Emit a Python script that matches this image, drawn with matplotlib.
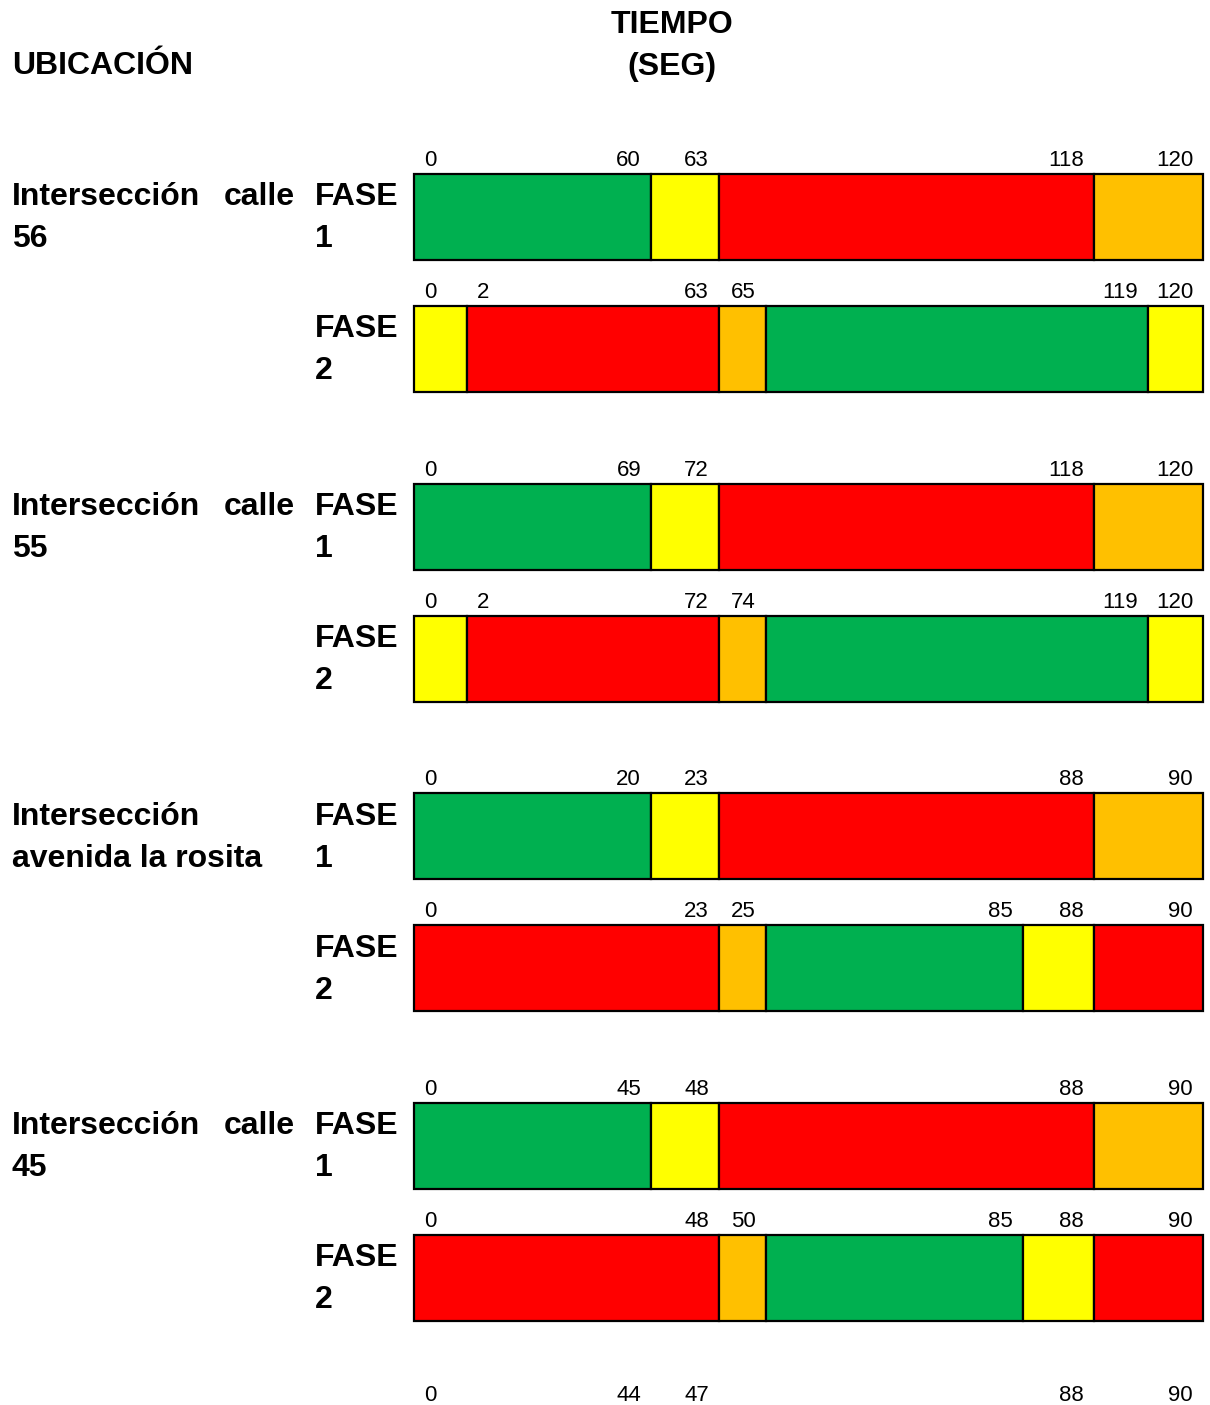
import matplotlib
matplotlib.use("Agg")
import matplotlib.pyplot as plt

# ---------------- data ----------------
header_left = "UBICACIÓN"
header_right = ["TIEMPO", "(SEG)"]

group_names = [
    ("Intersección calle", "56"),
    ("Intersección calle", "55"),
    ("Intersección", "avenida la rosita"),
    ("Intersección calle", "45"),
]
phase_names = [("FASE", "1"), ("FASE", "2")]

# schematic column grid of the timing table (width of each column)
grid_widths = [53, 184, 68, 47, 257, 71, 54, 55]

GREEN, YELLOW, RED, ORANGE = "#00B050", "#FFFF00", "#FF0000", "#FFC000"

# phase 1 (all intersections): segment colours and grid-edge indices
f1_colors = [GREEN, YELLOW, RED, ORANGE]
f1_edges = [0, 2, 3, 6, 8]
# phase 2 for the two "120 s" intersections
f2a_colors = [YELLOW, RED, ORANGE, GREEN, YELLOW]
f2a_edges = [0, 1, 3, 4, 7, 8]
# phase 2 for the two "90 s" intersections
f2b_colors = [RED, ORANGE, GREEN, YELLOW, RED]
f2b_edges = [0, 3, 4, 5, 6, 8]

# time labels (seconds) at each segment boundary
g1_f1 = [0, 60, 63, 118, 120]
g1_f2 = [0, 2, 63, 65, 119, 120]
g2_f1 = [0, 69, 72, 118, 120]
g2_f2 = [0, 2, 72, 74, 119, 120]
g3_f1 = [0, 20, 23, 88, 90]
g3_f2 = [0, 23, 25, 85, 88, 90]
g4_f1 = [0, 45, 48, 88, 90]
g4_f2 = [0, 48, 50, 85, 88, 90]
extra_row = [0, 44, 47, 88, 90]

phase_rows = [
    [(f1_colors, f1_edges, g1_f1), (f2a_colors, f2a_edges, g1_f2)],
    [(f1_colors, f1_edges, g2_f1), (f2a_colors, f2a_edges, g2_f2)],
    [(f1_colors, f1_edges, g3_f1), (f2b_colors, f2b_edges, g3_f2)],
    [(f1_colors, f1_edges, g4_f1), (f2b_colors, f2b_edges, g4_f2)],
]

# ---------------- layout ----------------
W, H = 1210, 1405
fig = plt.figure(figsize=(W / 100, H / 100), dpi=100)
ax = fig.add_axes([0, 0, 1, 1])
ax.set_xlim(0, W)
ax.set_ylim(H, 0)
ax.axis("off")

BOLD = dict(family=["Liberation Sans", "DejaVu Sans"], fontweight="bold", fontsize=23, color="black")
NUM = dict(family=["Liberation Sans", "DejaVu Sans"], fontsize=16, color="black")
BOLD_CAP = 11.4   # half cap height (px) for baseline placement
NUM_CAP = 7.9

bar_x0 = 414
edges_px = [bar_x0]
for w in grid_widths:
    edges_px.append(edges_px[-1] + w)

group_top0 = 174
group_step = 309.7
bar_h = 86
phase_step = 132
label_gap = 16
left_x = 12
left_x_end = 295
phase_x = 315
line2_dy = 42


def draw_labels(values, edge_idx, yc):
    for k, (v, ei) in enumerate(zip(values, edge_idx)):
        xe = edges_px[ei]
        if k == 0 or ei == 1:
            ax.text(xe + 10, yc + NUM_CAP, str(v), ha="left", va="baseline", **NUM)
        else:
            ax.text(xe - 10, yc + NUM_CAP, str(v), ha="right", va="baseline", **NUM)


# headers
ax.text(left_x, 63 + BOLD_CAP, header_left, ha="left", va="baseline", **BOLD)
ax.text(672, 22 + BOLD_CAP, header_right[0], ha="center", va="baseline", **BOLD)
ax.text(672, 64 + BOLD_CAP, header_right[1], ha="center", va="baseline", **BOLD)

for g, (name, rows) in enumerate(zip(group_names, phase_rows)):
    gt = group_top0 + g * group_step
    # group name (first line justified when it has several words)
    words = name[0].split()
    y1 = gt + 20 + BOLD_CAP
    if len(words) > 1:
        ax.text(left_x, y1, words[0], ha="left", va="baseline", **BOLD)
        ax.text(left_x_end, y1, words[-1], ha="right", va="baseline", **BOLD)
    else:
        ax.text(left_x, y1, words[0], ha="left", va="baseline", **BOLD)
    ax.text(left_x, y1 + line2_dy, name[1], ha="left", va="baseline", **BOLD)

    for p, (colors, eidx, labels) in enumerate(rows):
        top = gt + p * phase_step
        lefts = [edges_px[a] for a in eidx[:-1]]
        widths = [edges_px[b] - edges_px[a] for a, b in zip(eidx[:-1], eidx[1:])]
        ax.barh([top + bar_h / 2] * len(widths), widths, left=lefts, height=bar_h,
                color=colors, edgecolor="black", linewidth=1.6, zorder=2)
        draw_labels(labels, eidx, top - label_gap)
        yf = top + 20 + BOLD_CAP
        ax.text(phase_x, yf, phase_names[p][0], ha="left", va="baseline", **BOLD)
        ax.text(phase_x, yf + line2_dy, phase_names[p][1], ha="left", va="baseline", **BOLD)

# trailing label row
draw_labels(extra_row, f1_edges, 1393)

fig.savefig("out.png", dpi=100)
